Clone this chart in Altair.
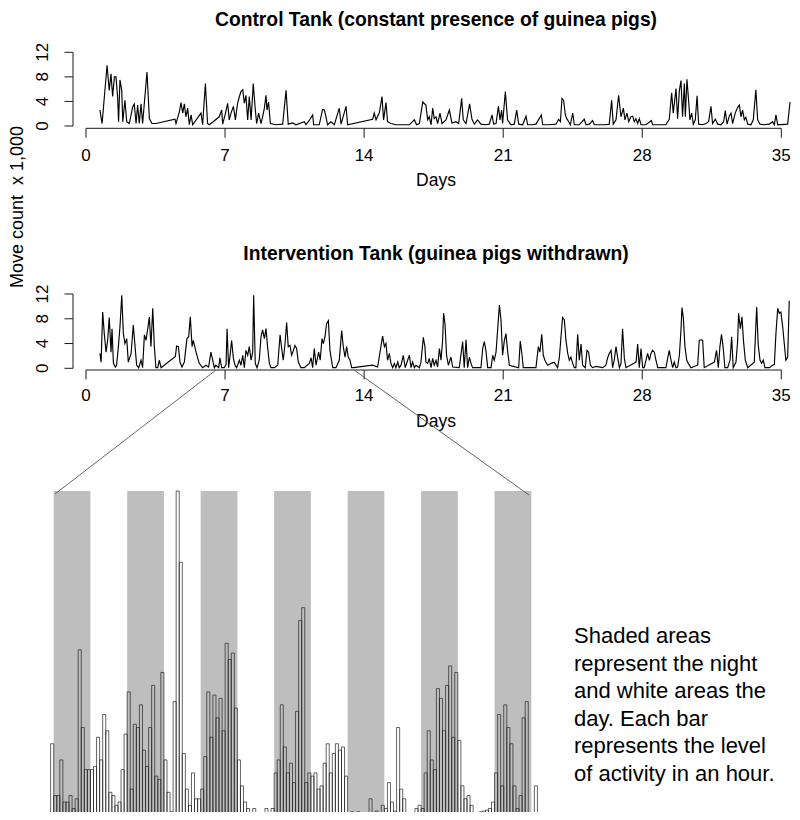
import altair as alt
import pandas as pd

# ---------------- data ----------------
CONTROL = [
    (0.70, 2.6), (0.81, 0.4), (1.06, 9.9), (1.17, 5.8), (1.26, 8.5), (1.34, 4.8), (1.43, 8.0), (1.51, 8.0), (1.59, 4.8), (1.64, 0.7),
    (1.71, 7.5), (1.80, 5.8), (1.85, 0.7), (1.96, 4.2), (2.05, 0.7), (2.18, 0.4), (2.35, 3.1), (2.43, 3.6), (2.52, 0.4), (2.60, 3.4),
    (2.68, 0.4), (2.77, 3.6), (2.85, 0.4), (3.07, 8.8), (3.19, 1.2), (3.32, 0.4), (3.52, 0.4), (4.48, 1.1), (4.53, 0.4), (4.70, 2.3),
    (4.78, 3.8), (4.87, 2.1), (4.95, 3.6), (5.03, 1.5), (5.12, 2.9), (5.20, 0.2), (5.29, 1.8), (5.37, 0.2), (5.79, 2.1), (5.87, 0.2),
    (6.01, 6.9), (6.12, 0.4), (6.21, 0.2), (6.71, 1.5), (6.83, 2.6), (6.88, 0.3), (7.00, 1.8), (7.13, 3.7), (7.21, 1.0), (7.30, 2.1),
    (7.42, 3.2), (7.52, 1.0), (7.63, 3.7), (7.72, 4.8), (7.80, 5.6), (7.89, 5.9), (7.97, 3.7), (8.05, 5.0), (8.14, 1.0), (8.22, 4.8),
    (8.31, 1.0), (8.42, 6.9), (8.51, 3.1), (8.59, 0.4), (8.69, 2.1), (8.81, 0.4), (8.89, 1.5), (8.98, 2.9), (9.06, 5.0), (9.11, 2.6),
    (9.19, 3.9), (9.28, 0.4), (9.56, 0.2), (9.90, 0.3), (10.07, 5.8), (10.18, 0.3), (10.40, 0.5), (10.57, 0.2), (10.99, 0.7), (11.07, 0.2),
    (11.24, 0.9), (11.41, 1.8), (11.46, 0.2), (11.74, 0.2), (11.91, 2.7), (12.00, 2.6), (12.08, 1.5), (12.16, 0.2), (12.33, 0.7), (12.50, 0.2),
    (12.75, 2.9), (12.84, 0.3), (13.09, 3.2), (13.17, 0.2), (14.43, 1.1), (14.51, 2.1), (14.60, 1.0), (14.77, 2.2), (14.90, 4.8), (14.98, 1.0),
    (15.10, 3.8), (15.18, 0.7), (15.35, 0.4), (15.60, 0.2), (16.28, 0.2), (16.53, 1.0), (16.64, 0.2), (16.78, 0.4), (16.95, 3.9),
    (17.11, 3.4), (17.20, 1.0), (17.28, 1.5), (17.37, 0.2), (17.45, 2.9), (17.53, 1.2), (17.62, 1.5), (17.70, 0.4), (17.82, 2.1), (17.92, 0.4),
    (18.12, 1.0), (18.29, 2.6), (18.42, 0.5), (18.62, 0.7), (18.76, 0.4), (18.91, 4.5), (18.99, 1.0), (19.13, 0.4), (19.31, 3.6), (19.43, 1.1),
    (19.55, 0.3), (19.71, 1.0), (19.88, 0.3), (20.13, 0.2), (20.30, 0.3), (20.44, 1.8), (20.52, 0.3), (20.64, 0.4), (20.76, 3.2), (20.84, 1.0),
    (20.92, 2.6), (20.97, 0.4), (21.11, 5.6), (21.22, 1.0), (21.39, 0.2), (21.56, 0.3), (21.68, 2.6), (21.78, 0.3), (21.98, 0.2), (22.15, 1.6),
    (22.23, 0.2), (22.48, 0.2), (22.65, 0.3), (22.92, 1.8), (22.99, 0.2), (23.32, 0.2), (23.66, 0.3), (23.79, 1.1), (23.88, 0.7), (23.96, 4.5),
    (24.04, 4.2), (24.13, 1.8), (24.20, 1.2), (24.30, 0.7), (24.38, 0.2), (24.50, 2.1), (24.58, 0.2), (24.83, 0.2), (25.08, 1.1), (25.17, 0.2),
    (25.34, 0.3), (25.50, 0.9), (25.59, 0.2), (26.17, 0.2), (26.34, 0.3), (26.46, 4.2), (26.54, 0.3), (26.68, 1.0), (26.81, 5.0), (26.93, 1.5),
    (27.05, 2.9), (27.13, 1.0), (27.23, 2.1), (27.32, 0.7), (27.43, 1.5), (27.52, 1.6), (27.60, 0.7), (27.68, 1.2), (27.77, 0.4), (27.85, 1.2),
    (27.94, 0.2), (28.19, 0.2), (28.46, 0.9), (28.52, 0.2), (29.19, 0.2), (29.36, 1.1), (29.48, 5.4), (29.56, 2.1), (29.70, 6.1), (29.78, 1.2),
    (29.87, 5.8), (29.95, 7.4), (30.03, 1.5), (30.12, 6.9), (30.17, 1.5), (30.25, 7.6), (30.34, 3.9), (30.40, 1.0), (30.49, 2.1), (30.57, 0.3),
    (30.67, 1.0), (30.76, 4.9), (30.84, 0.3), (31.04, 0.2), (31.21, 0.4), (31.34, 0.7), (31.46, 3.2), (31.54, 0.4), (31.68, 1.1), (31.80, 0.3),
    (31.96, 0.2), (32.10, 0.7), (32.18, 2.5), (32.27, 0.3), (32.38, 1.6), (32.47, 2.1), (32.55, 0.4), (32.68, 2.1), (32.80, 3.0), (32.89, 3.4),
    (32.97, 1.5), (33.05, 2.6), (33.14, 1.0), (33.22, 1.4), (33.31, 0.3), (33.47, 0.2), (33.59, 1.0), (33.72, 5.9), (33.81, 1.0), (33.93, 0.3),
    (34.14, 0.2), (34.40, 0.3), (34.56, 0.7), (34.65, 0.2), (34.73, 1.8), (34.82, 0.2), (35.32, 0.3), (35.44, 3.9),
]

INTERVENTION = [
    (0.70, 2.4), (0.76, 1.0), (0.84, 9.1), (0.92, 5.6), (1.01, 2.6), (1.09, 4.5), (1.17, 8.2), (1.26, 2.6), (1.31, 6.4), (1.38, 0.8),
    (1.48, 0.2), (1.54, 0.5), (1.63, 3.5), (1.71, 6.7), (1.80, 11.8), (1.88, 5.6), (1.96, 4.0), (2.05, 4.8), (2.13, 1.0), (2.27, 2.4),
    (2.38, 7.0), (2.47, 3.5), (2.55, 0.5), (2.65, 0.1), (2.77, 1.3), (2.85, 0.1), (2.94, 5.4), (3.02, 4.5), (3.10, 6.2), (3.19, 8.3),
    (3.27, 3.5), (3.36, 9.7), (3.44, 3.5), (3.52, 0.1), (3.61, 0.1), (3.69, 1.3), (3.78, 0.1), (4.50, 1.9), (4.56, 3.6), (4.65, 3.5),
    (4.73, 1.0), (4.83, 0.2), (4.95, 1.0), (5.08, 4.8), (5.17, 5.1), (5.25, 8.3), (5.34, 3.5), (5.40, 4.5), (5.54, 2.6), (5.70, 0.8),
    (5.87, 0.1), (6.04, 0.5), (6.17, 0.2), (6.29, 2.6), (6.38, 1.3), (6.46, 0.1), (6.54, 0.5), (6.68, 0.1), (6.74, 1.7), (6.83, 0.1),
    (6.96, 0.1), (7.05, 0.6), (7.10, 6.4), (7.18, 0.1), (7.27, 2.6), (7.33, 4.5), (7.42, 1.6), (7.50, 0.5), (7.58, 0.1), (7.72, 1.3),
    (7.80, 0.5), (7.89, 2.1), (7.97, 0.1), (8.05, 2.9), (8.14, 2.1), (8.22, 3.5), (8.31, 1.3), (8.39, 2.6), (8.44, 11.8), (8.52, 0.8),
    (8.61, 0.1), (8.72, 1.3), (8.81, 5.1), (8.89, 6.2), (8.98, 4.8), (9.06, 6.4), (9.14, 3.5), (9.23, 0.8), (9.31, 0.1), (9.48, 0.1),
    (9.65, 0.5), (9.77, 5.4), (9.85, 3.2), (9.93, 1.3), (10.02, 4.0), (10.10, 7.4), (10.18, 3.5), (10.27, 3.7), (10.35, 2.1), (10.44, 2.9),
    (10.52, 3.7), (10.60, 3.2), (10.69, 1.0), (10.82, 0.1), (10.99, 0.1), (11.24, 0.8), (11.33, 1.7), (11.41, 0.1), (11.49, 3.2), (11.58, 0.5),
    (11.71, 2.6), (11.79, 1.3), (11.88, 4.8), (11.95, 4.0), (12.03, 5.1), (12.11, 7.2), (12.20, 7.7), (12.28, 2.9), (12.42, 0.1), (12.58, 0.1),
    (12.75, 1.3), (12.87, 6.1), (12.95, 3.5), (13.04, 1.8), (13.12, 3.5), (13.20, 1.8), (13.29, 1.3), (13.37, 0.1), (13.46, 0.1), (14.43, 0.5),
    (14.68, 0.2), (14.80, 2.6), (14.93, 5.2), (15.02, 3.5), (15.10, 4.0), (15.18, 1.3), (15.27, 2.4), (15.35, 0.8), (15.44, 0.1), (15.52, 0.8),
    (15.60, 0.1), (15.69, 1.0), (15.77, 0.1), (15.86, 0.5), (15.97, 2.1), (16.07, 0.1), (16.19, 1.3), (16.28, 2.1), (16.36, 0.1), (16.44, 1.0),
    (16.53, 0.1), (16.61, 0.5), (16.78, 0.1), (16.86, 1.0), (16.98, 5.0), (17.06, 3.5),
    (17.11, 1.0), (17.20, 0.8), (17.28, 1.6), (17.37, 0.1), (17.45, 1.6), (17.53, 0.5), (17.62, 1.3), (17.70, 0.2), (17.79, 3.2), (17.87, 1.3),
    (17.95, 4.5), (18.00, 8.9), (18.07, 7.2), (18.15, 2.1), (18.24, 0.5), (18.37, 1.8), (18.46, 0.2), (18.79, 0.1), (18.96, 4.3), (19.04, 0.1),
    (19.13, 4.6), (19.21, 0.1), (19.30, 1.8), (19.38, 0.8), (19.46, 0.1), (19.88, 0.1), (19.97, 3.2), (20.05, 4.3), (20.13, 2.9), (20.22, 0.1),
    (20.39, 0.1), (20.47, 2.1), (20.55, 1.3), (20.64, 2.6), (20.72, 6.2), (20.81, 10.2), (20.89, 7.8), (20.97, 2.1), (21.06, 4.5), (21.14, 5.6),
    (21.22, 2.9), (21.31, 0.5), (21.78, 0.1), (21.86, 4.4), (21.95, 2.1), (22.01, 0.1), (22.65, 0.1), (22.77, 3.5), (22.85, 2.6), (22.94, 5.5),
    (23.02, 2.1), (23.10, 1.3), (23.24, 0.5), (23.41, 0.8), (23.57, 1.0), (23.74, 0.1), (23.83, 1.8), (23.91, 5.1), (23.99, 8.2), (24.08, 7.8),
    (24.16, 4.5), (24.25, 2.4), (24.33, 1.3), (24.41, 1.8), (24.50, 0.8), (24.58, 0.1), (24.66, 0.1), (24.75, 5.5), (24.83, 1.3), (24.92, 3.9),
    (25.00, 0.5), (25.13, 0.1), (25.22, 2.9), (25.30, 2.6), (25.39, 0.5), (25.50, 0.1), (25.67, 0.3), (26.01, 0.1), (26.17, 0.5), (26.26, 1.7),
    (26.34, 2.4), (26.43, 2.9), (26.51, 0.1), (26.59, 1.3), (26.68, 3.5), (26.76, 1.8), (26.85, 0.1), (26.93, 0.8), (27.01, 6.4), (27.10, 1.6),
    (27.18, 0.1), (27.69, 1.0), (27.77, 3.9), (27.85, 0.1), (27.94, 3.2), (28.02, 0.1), (28.10, 0.1), (28.27, 2.4), (28.36, 1.3), (28.44, 2.4),
    (28.52, 2.9), (28.61, 2.6), (28.69, 1.3), (28.78, 0.1), (29.19, 0.1), (29.36, 2.9), (29.45, 1.3), (29.53, 0.1), (29.61, 1.0), (29.70, 0.1),
    (29.78, 0.2), (29.87, 2.1), (29.95, 6.2), (30.00, 9.8), (30.07, 8.1), (30.15, 3.5), (30.24, 1.3), (30.32, 0.8), (30.45, 0.1), (30.79, 0.5),
    (30.87, 4.5), (30.96, 4.6), (31.04, 4.5), (31.12, 0.1), (31.63, 1.0), (31.74, 2.9), (31.83, 0.1), (31.91, 3.5), (31.99, 5.5), (32.08, 3.2),
    (32.16, 0.1), (32.30, 0.1), (32.42, 1.3), (32.50, 5.1), (32.58, 0.1), (32.72, 1.0), (32.80, 4.3), (32.85, 8.9), (32.94, 6.4), (33.02, 8.3),
    (33.10, 4.3), (33.19, 1.3), (33.31, 0.1), (33.64, 1.0), (33.76, 9.9), (33.84, 3.7), (33.93, 1.3), (34.01, 0.8), (34.09, 1.3), (34.18, 0.1),
    (34.40, 0.1), (34.56, 0.5), (34.65, 0.6), (34.73, 5.6), (34.82, 9.7), (34.90, 8.9), (34.98, 9.1), (35.07, 6.7), (35.15, 4.0), (35.23, 1.3),
    (35.32, 1.8), (35.40, 10.9),
]

# hourly activity in the zoomed window (relative level, tallest bar = 100)
HOURLY = [
    22, 6, 6, 17, 4, 4, 6, 2, 5, 51, 27, 14, 14, 14, 15, 24, 17, 31, 26, 7,
    6, 3, 4, 14, 25, 38, 8, 28, 27, 34, 20, 15, 27, 40, 12, 11, 44, 17, 7, 1,
    35, 100, 78, 19, 8, 3, 13, 5, 5, 8, 18, 38, 24, 37, 30, 36, 26, 53, 48, 50,
    33, 17, 9, 4, 2, 0.5, 2, 0, 0.2, 0.7, 2, 0.2, 2, 13, 17, 34, 21, 13, 16, 10,
    32, 60, 64, 10, 13, 12, 13, 8, 9, 16, 22, 13, 19, 22, 20, 21, 12, 0.5, 1, 0.5,
    1, 0, 0.2, 0.5, 5, 0.2, 1.2, 0, 3, 2, 10, 4, 1.2, 27, 8, 5, 0.5, 0.2, 0.5, 2,
    3, 2, 13, 26, 17, 14, 39, 36, 26, 40, 46, 24, 44, 23, 9, 5, 6, 3, 0, 0.2,
    1, 1.2, 1.5, 2, 4, 13, 31, 9, 34, 27, 22, 9, 2, 6, 30, 35, 0.5, 0.7, 9,
]
FIRST_HOUR = -1
NIGHT_STARTS = [0, 24, 48, 72, 96, 120, 144]
NIGHT_HOURS = 12
BAR_MAX = 100

DAY_TICKS = [0, 7, 14, 21, 28, 35]
COUNT_TICKS = [0, 4, 8, 12]
TITLES = ["Control Tank (constant presence of guinea pigs)",
          "Intervention Tank (guinea pigs withdrawn)"]
X_TITLE = "Days"
Y_TITLE = "Move count\u00a0 x 1,000"
NOTE = ["Shaded areas", "represent the night", "and white areas the",
        "day. Each bar", "represents the level", "of activity in an hour."]

FONT = "Liberation Sans"
INK = "#1a1a1a"
DX = -4  # small horizontal shift so the right-most label stays on the canvas

# ---------------- scales (pixel ranges of the canvas) ----------------
day_scale = alt.Scale(domain=[0, 35], range=[82 + DX, 777.3 + DX], nice=False, zero=False)
top_y = alt.Scale(domain=[0, 12], range=[118, 44.3], nice=False, zero=False)
bot_y = alt.Scale(domain=[0, 12], range=[360.3, 286], nice=False, zero=False)
hour_scale = alt.Scale(domain=[0, 156], range=[49.7 + DX, 527.3 + DX], nice=False, zero=False)
act_scale = alt.Scale(domain=[0, BAR_MAX], range=[807, 483], nice=False, zero=False)

layers = []


def one_text(txt, **kw):
    return alt.Chart(pd.DataFrame({"t": [txt]})).mark_text(font=FONT, **kw)


def panel(series, yscale, axis_y, title, title_y, title_base, label_y, xtitle_y):
    df = pd.DataFrame(series, columns=["day", "count"])
    out = []
    out.append(alt.Chart(df).mark_line(color="black", strokeWidth=1.15).encode(
        x=alt.X("day:Q", scale=day_scale, axis=None),
        y=alt.Y("count:Q", scale=yscale, axis=None),
        order="day:Q"))
    # x axis
    out.append(alt.Chart(pd.DataFrame({"a": [DAY_TICKS[0]], "b": [DAY_TICKS[-1]]})).mark_rule(
        color=INK, strokeWidth=1).encode(
        x=alt.X("a:Q", scale=day_scale, axis=None), x2="b:Q", y=alt.value(axis_y)))
    tdf = pd.DataFrame({"t": DAY_TICKS, "lab": [str(v) for v in DAY_TICKS]})
    out.append(alt.Chart(tdf).mark_rule(color=INK, strokeWidth=1).encode(
        x=alt.X("t:Q", scale=day_scale, axis=None), y=alt.value(axis_y), y2=alt.value(axis_y + 9.5)))
    out.append(alt.Chart(tdf).mark_text(font=FONT, fontSize=17, color="black", baseline="middle").encode(
        x=alt.X("t:Q", scale=day_scale, axis=None), y=alt.value(label_y), text="lab:N"))
    # y axis
    out.append(alt.Chart(pd.DataFrame({"a": [COUNT_TICKS[0]], "b": [COUNT_TICKS[-1]]})).mark_rule(
        color=INK, strokeWidth=1).encode(
        y=alt.Y("a:Q", scale=yscale, axis=None), y2="b:Q", x=alt.value(69 + DX)))
    ydf = pd.DataFrame({"t": COUNT_TICKS, "lab": [str(v) for v in COUNT_TICKS]})
    out.append(alt.Chart(ydf).mark_rule(color=INK, strokeWidth=1).encode(
        y=alt.Y("t:Q", scale=yscale, axis=None), x=alt.value(60.5 + DX), x2=alt.value(69 + DX)))
    out.append(alt.Chart(ydf).mark_text(font=FONT, fontSize=17, color="black", angle=270,
                                        align="center", baseline="middle").encode(
        y=alt.Y("t:Q", scale=yscale, axis=None), x=alt.value(39 + DX), text="lab:N"))
    # titles
    out.append(one_text(title, fontSize=19.3, fontWeight="bold", color="black",
                        align="center", baseline=title_base).encode(
        x=alt.value(432 + DX), y=alt.value(title_y), text="t:N"))
    out.append(one_text(X_TITLE, fontSize=17.5, color="black", align="center",
                        baseline="middle").encode(
        x=alt.value(432 + DX), y=alt.value(xtitle_y), text="t:N"))
    return out


layers += panel(CONTROL, top_y, 120.3, TITLES[0], 17.8, "alphabetic", 148, 173)
layers += panel(INTERVENTION, bot_y, 362, TITLES[1], 246, "middle", 388, 414)

layers.append(one_text(Y_TITLE, fontSize=18, color="black", angle=270, align="center",
                       baseline="middle").encode(x=alt.value(10), y=alt.value(199), text="t:N"))

# ---------------- zoomed hourly bar chart ----------------
nights = pd.DataFrame({"s": NIGHT_STARTS})
layers.append(alt.Chart(nights).transform_calculate(e=f"datum.s + {NIGHT_HOURS}").mark_rect(
    color="#bebebe").encode(
    x=alt.X("s:Q", scale=hour_scale, axis=None), x2="e:Q",
    y=alt.YDatum(BAR_MAX, scale=act_scale, axis=None), y2=alt.datum(0)))

bars = pd.DataFrame({"h": [FIRST_HOUR + i for i in range(len(HOURLY))], "act": HOURLY})
layers.append(alt.Chart(bars).transform_calculate(h2="datum.h + 1").mark_rect(
    fillOpacity=0, stroke="#222222", strokeWidth=0.7).encode(
    x=alt.X("h:Q", scale=hour_scale, axis=None), x2="h2:Q",
    y=alt.Y("act:Q", scale=act_scale, axis=None), y2=alt.datum(0)))

# connector lines from the intervention axis to the zoomed window
layers.append(alt.Chart(pd.DataFrame({"k": [0]})).mark_rule(color="#555555", strokeWidth=0.9).encode(
    x=alt.value(212 + DX), y=alt.value(362), x2=alt.value(51 + DX), y2=alt.value(486)))
layers.append(alt.Chart(pd.DataFrame({"k": [0]})).mark_rule(color="#555555", strokeWidth=0.9).encode(
    x=alt.value(350 + DX), y=alt.value(362), x2=alt.value(525 + DX), y2=alt.value(487)))

# explanatory note
layers.append(one_text("\n".join(NOTE), fontSize=22, color="black", align="left", baseline="top",
                       lineBreak="\n", lineHeight=27.5).encode(
    x=alt.value(570 + DX), y=alt.value(618), text="t:N"))

chart = alt.layer(*layers).resolve_scale(x="independent", y="independent").properties(
    width=784, height=804, padding=0, autosize=alt.AutoSizeParams(type="none")
).configure_view(stroke=None)

chart.save("out.html", embed_options={"renderer": "svg", "actions": False})
